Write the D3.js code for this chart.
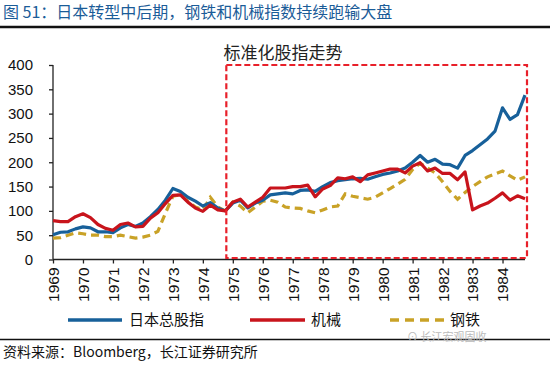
<!DOCTYPE html>
<html>
<head>
<meta charset="utf-8">
<script src="https://cdn.jsdelivr.net/npm/d3@7"></script>
<style>
  body { margin: 0; background: #fff; }
  svg { display: block; font-family: "Liberation Sans", Arial, "Noto Sans CJK SC", sans-serif; }
</style>
</head>
<body>
<div id="chart"></div>
<script>
// quarterly data, 1969Q1 .. 1984Q4
const years = d3.range(1969, 1985);
const topix = [51, 56, 57, 63, 67, 65, 57, 57, 55, 65, 72, 68, 75, 88, 103, 122,
  146, 140, 128, 120, 110, 117, 106, 100, 116, 122, 106, 116, 122, 133, 135, 137,
  135, 142, 143, 140, 150, 158, 162, 164, 166, 167, 165, 170, 175, 178, 182, 188,
  200, 214, 200, 206, 196, 195, 188, 214, 224, 236, 248, 264, 312, 288, 298, 338];
const machinery = [80, 78, 78, 88, 94, 86, 72, 64, 60, 72, 75, 67, 68, 85, 96, 115,
  132, 133, 118, 106, 99, 112, 102, 100, 118, 124, 108, 118, 128, 147, 147, 147,
  150, 150, 153, 129, 145, 152, 168, 166, 170, 160, 174, 178, 182, 186, 186, 178,
  192, 199, 182, 188, 177, 177, 164, 180, 102, 110, 116, 126, 137, 122, 131, 125];
const steel = [44, 45, 50, 55, 53, 50, 50, 47, 47, 50, 47, 44, 46, 50, 58, 95,
  130, 133, 120, 108, 102, 128, 108, 100, 118, 110, 96, 108, 120, 122, 118, 108,
  106, 105, 100, 96, 102, 108, 110, 135, 130, 127, 124, 128, 137, 146, 155, 165,
  185, 198, 188, 178, 160, 140, 124, 138, 150, 160, 170, 176, 182, 172, 163, 170];
const yTicks = [0, 50, 100, 150, 200, 250, 300, 350, 400];
const seriesNames = ["日本总股指", "机械", "钢铁"];
const boxStart = 23; // 1974Q4, rebased to 100

const W = 550, H = 367;
const svg = d3.select("#chart").append("svg").attr("width", W).attr("height", H);

// header
svg.append("text").attr("x", 3).attr("y", 18)
  .attr("font-family", "'Noto Sans CJK SC', sans-serif")
  .attr("font-size", 16).attr("fill", "#1b5c98")
  .text("图 51：日本转型中后期，钢铁和机械指数持续跑输大盘");
svg.append("line").attr("x1", 0).attr("x2", W).attr("y1", 27).attr("y2", 27)
  .attr("stroke", "#111").attr("stroke-width", 2.5);

// chart title
svg.append("text").attr("x", 283).attr("y", 59).attr("text-anchor", "middle")
  .attr("font-family", "'Noto Sans CJK SC', sans-serif")
  .attr("font-size", 17).attr("fill", "#222").text("标准化股指走势");

const x = d3.scaleLinear().domain([0, topix.length - 1]).range([53, 525]);
const y = d3.scaleLinear().domain([0, 400]).range([259.5, 65]);

// axes
const yAxis = svg.append("g").attr("transform", "translate(53,0)")
  .call(d3.axisLeft(y).tickValues(yTicks).tickSize(4).tickPadding(16));
const xAxis = svg.append("g").attr("transform", "translate(0,259.5)")
  .call(d3.axisBottom(x).tickValues(years.map((d, i) => i * 4))
    .tickFormat((d) => years[d / 4]).tickSize(4).tickSizeOuter(0));
xAxis.select(".domain").attr("d", "M53,0H525");
[yAxis, xAxis].forEach((g) => {
  g.selectAll("path, line").attr("stroke", "#222").attr("stroke-width", 1.3);
  g.selectAll("text").attr("fill", "#111")
    .attr("font-family", "'Liberation Sans', Arial, sans-serif");
});
yAxis.selectAll("text").attr("font-size", 15);
yAxis.select(".domain").attr("d", "M0,65V259.5");
xAxis.selectAll("text")
  .attr("font-size", 15.5)
  .attr("transform", "rotate(-90)")
  .attr("text-anchor", "end").attr("dy", "0.35em")
  .attr("x", -8).attr("y", 0);

// lines
const line = (vals) => d3.line().x((d, i) => x(i)).y((d) => y(d))(vals);
svg.append("path").attr("d", line(steel)).attr("fill", "none")
  .attr("stroke", "#c9a227").attr("stroke-width", 3.2).attr("stroke-dasharray", "8,5");
svg.append("path").attr("d", line(topix)).attr("fill", "none")
  .attr("stroke", "#17609a").attr("stroke-width", 3.2).attr("stroke-linejoin", "round");
svg.append("path").attr("d", line(machinery)).attr("fill", "none")
  .attr("stroke", "#c8141c").attr("stroke-width", 3.2).attr("stroke-linejoin", "round");

// red dashed box over the late period
svg.append("rect")
  .attr("x", x(boxStart) + 1).attr("y", y(400))
  .attr("width", x(topix.length - 1) + 2 - x(boxStart) - 1)
  .attr("height", y(0) - y(400) - 1.5)
  .attr("fill", "none").attr("stroke", "#e8202a").attr("stroke-width", 2.2)
  .attr("stroke-dasharray", "6,3");

// legend
const legend = [
  { name: seriesNames[0], color: "#17609a", dash: null, x1: 68, x2: 122, tx: 129 },
  { name: seriesNames[1], color: "#c8141c", dash: null, x1: 250, x2: 305, tx: 311 },
  { name: seriesNames[2], color: "#c9a227", dash: "9,6", x1: 390, x2: 445, tx: 450 }
];
legend.forEach((d) => {
  svg.append("line").attr("x1", d.x1).attr("x2", d.x2).attr("y1", 320).attr("y2", 320)
    .attr("stroke", d.color).attr("stroke-width", 3.5)
    .attr("stroke-dasharray", d.dash);
  svg.append("text").attr("x", d.tx).attr("y", 325)
    .attr("font-family", "'Noto Sans CJK SC', sans-serif")
    .attr("font-size", 15).attr("fill", "#111").text(d.name);
});

// footer
svg.append("line").attr("x1", 0).attr("x2", W).attr("y1", 339.5).attr("y2", 339.5)
  .attr("stroke", "#111").attr("stroke-width", 1.5);
svg.append("text").attr("x", 407).attr("y", 341)
  .attr("font-family", "'Noto Sans CJK SC', sans-serif")
  .attr("font-size", 11).attr("fill", "#bbb").text("⊙ 长江宏观固收");
svg.append("text").attr("x", 3).attr("y", 357)
  .attr("font-family", "'Noto Sans CJK SC', sans-serif")
  .attr("font-size", 14).attr("fill", "#111").text("资料来源：Bloomberg，长江证券研究所");
</script>
</body>
</html>
